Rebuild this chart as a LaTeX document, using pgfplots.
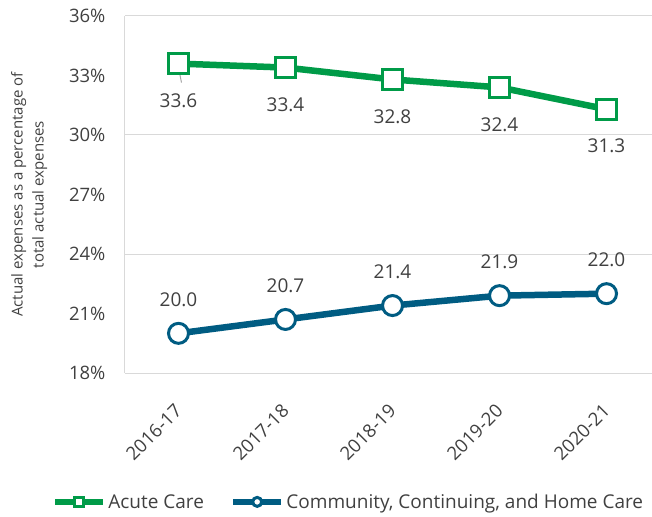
\documentclass[border=0pt]{standalone}
\usepackage{pgfplots}
\pgfplotsset{compat=1.18}
\usepackage{fontspec}
\setmainfont{Open Sans}
\definecolor{acute}{RGB}{0,155,72}
\definecolor{comm}{RGB}{0,92,130}
\definecolor{gridgray}{RGB}{217,217,217}
\definecolor{txt}{RGB}{64,64,64}
\begin{document}
\begin{tikzpicture}
\path[use as bounding box] (-125pt,-143pt) rectangle (527pt,373pt);
\begin{axis}[
  at={(0pt,0pt)}, anchor=south west,
  scale only axis,
  width=527pt, height=357pt,
  xmin=-0.5, xmax=4.425,
  ymin=18, ymax=36,
  axis lines*=left,
  axis line style={draw=gridgray, line width=1pt},
  xtick={0,1,2,3,4},
  xticklabels={2016-17,2017-18,2018-19,2019-20,2020-21},
  ytick={18,21,24,27,30,33,36},
  major tick length=0pt,
  extra y ticks={24,30,36},
  extra y tick labels={},
  extra y tick style={grid=major, major grid style={draw=gridgray, line width=1pt}},
  yticklabel={\pgfmathprintnumber{\tick}\%},
  /pgf/number format/assume math mode=true,
  yticklabel style={font=\fontsize{18.5}{22}\selectfont, text=txt, xshift=-16pt},
  xticklabel style={font=\fontsize{18.5}{22}\selectfont, text=txt, xshift=-5pt, yshift=-25pt, rotate=45, anchor=north east},
  ylabel={Actual expenses as a percentage of\\total actual expenses},
  ylabel style={at={(axis description cs:-0.182,0.5)}, anchor=center, align=center, font=\fontsize{15}{21}\selectfont, text=txt},
  clip=false,
  legend style={at={(axis description cs:0.424,-0.361)}, anchor=center, draw=none, fill=none,
    font=\fontsize{19}{23}\selectfont, text=txt, legend columns=2,
    /tikz/every even column/.append style={column sep=24pt}, inner sep=0pt},
  legend cell align=left,
  legend image code/.code={
    \draw[#1, mark=none] (0pt,0pt) -- (48pt,0pt);
    \path[#1, mark size=4.5pt, mark options={line width=3pt, fill=white}] plot coordinates {(24pt,0pt)};
  },
  nodes near coords={\pgfmathprintnumber[fixed, fixed zerofill, precision=1]{\pgfplotspointmeta}},
  every node near coord/.append style={font=\fontsize{19}{23}\selectfont, text=txt, anchor=center},
]
\addplot[acute, line width=6.5pt, mark=square*, mark size=10pt,
  mark options={line width=3pt, fill=white, draw=acute},
  every node near coord/.append style={yshift=-37pt}]
  coordinates {(0,33.6) (1,33.4) (2,32.8) (3,32.4) (4,31.3)};
\addlegendentry{Acute Care}
\addplot[comm, line width=6.5pt, mark=*, mark size=10pt,
  mark options={line width=3pt, fill=white, draw=comm},
  every node near coord/.append style={yshift=34pt}]
  coordinates {(0,20.0) (1,20.7) (2,21.4) (3,21.9) (4,22.0)};
\addlegendentry{Community, Continuing, and Home Care}
\draw[gray!70, line width=1pt] ([yshift=-4pt]axis cs:0,33.6) -- ([xshift=3pt,yshift=-19pt]axis cs:0,33.6);
\end{axis}
\end{tikzpicture}
\end{document}
